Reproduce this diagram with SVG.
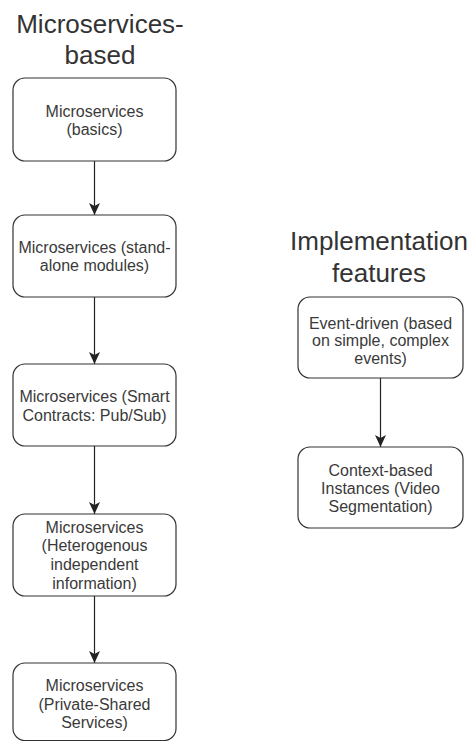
<svg xmlns="http://www.w3.org/2000/svg" width="473" height="742" viewBox="0 0 473 742">
  <style>
    .box { fill: #ffffff; stroke: #333333; stroke-width: 1.2; }
    .lbl { font-family: "Liberation Sans", Arial, sans-serif; font-size: 16px; fill: #3a3a3a; text-anchor: middle; }
    .title { font-family: "Liberation Sans", Arial, sans-serif; font-size: 26px; fill: #333333; text-anchor: middle; }
    .edge { stroke: #222222; stroke-width: 1.2; fill: none; }
  </style>
  <defs>
    <marker id="arrow" viewBox="0 0 12 12" refX="12" refY="6" markerWidth="12" markerHeight="12" markerUnits="userSpaceOnUse" orient="auto">
      <path d="M0,0.5 L12,6 L0,11.5 L3,6 z" fill="#222222"/>
    </marker>
  </defs>
  <rect width="473" height="742" fill="#ffffff"/>

  <g id="title-left">
    <text class="title" x="100" y="32.5">Microservices-</text>
    <text class="title" x="100" y="64">based</text>
  </g>
  <g id="title-right">
    <text class="title" x="379" y="250">Implementation</text>
    <text class="title" x="379" y="281.5">features</text>
  </g>

  <g id="connectors">
    <line class="edge" x1="94.5" y1="161" x2="94.5" y2="215" marker-end="url(#arrow)"/>
    <line class="edge" x1="94.5" y1="297" x2="94.5" y2="364" marker-end="url(#arrow)"/>
    <line class="edge" x1="94.5" y1="446" x2="94.5" y2="514" marker-end="url(#arrow)"/>
    <line class="edge" x1="94.5" y1="596" x2="94.5" y2="663" marker-end="url(#arrow)"/>
    <line class="edge" x1="380.5" y1="378" x2="380.5" y2="447" marker-end="url(#arrow)"/>
  </g>

  <g id="node-basics">
    <rect class="box" x="13" y="78" width="163" height="83" rx="12" ry="12"/>
    <text class="lbl" x="94.5" y="116.5">Microservices</text>
    <text class="lbl" x="94.5" y="134.5">(basics)</text>
  </g>
  <g id="node-standalone">
    <rect class="box" x="13" y="215" width="163" height="82" rx="12" ry="12"/>
    <text class="lbl" x="94.5" y="252.5">Microservices (stand-</text>
    <text class="lbl" x="94.5" y="271">alone modules)</text>
  </g>
  <g id="node-smart">
    <rect class="box" x="13" y="364" width="163" height="82" rx="12" ry="12"/>
    <text class="lbl" x="94.5" y="401.5">Microservices (Smart</text>
    <text class="lbl" x="94.5" y="420.5">Contracts: Pub/Sub)</text>
  </g>
  <g id="node-hetero">
    <rect class="box" x="13" y="514" width="163" height="82" rx="12" ry="12"/>
    <text class="lbl" x="94.5" y="532.5">Microservices</text>
    <text class="lbl" x="94.5" y="551.2">(Heterogenous</text>
    <text class="lbl" x="94.5" y="569.9">independent</text>
    <text class="lbl" x="94.5" y="588.6">information)</text>
  </g>
  <g id="node-private">
    <rect class="box" x="13" y="663" width="163" height="77.5" rx="12" ry="12"/>
    <text class="lbl" x="94.5" y="691">Microservices</text>
    <text class="lbl" x="94.5" y="709.5">(Private-Shared</text>
    <text class="lbl" x="94.5" y="728">Services)</text>
  </g>

  <g id="node-event">
    <rect class="box" x="298" y="297" width="165" height="81" rx="12" ry="12"/>
    <text class="lbl" x="380.5" y="328.5">Event-driven (based</text>
    <text class="lbl" x="380.5" y="346">on simple, complex</text>
    <text class="lbl" x="380.5" y="363.5">events)</text>
  </g>
  <g id="node-context">
    <rect class="box" x="298" y="447" width="165" height="81" rx="12" ry="12"/>
    <text class="lbl" x="380.5" y="476">Context-based</text>
    <text class="lbl" x="380.5" y="494">Instances (Video</text>
    <text class="lbl" x="380.5" y="512">Segmentation)</text>
  </g>
</svg>
